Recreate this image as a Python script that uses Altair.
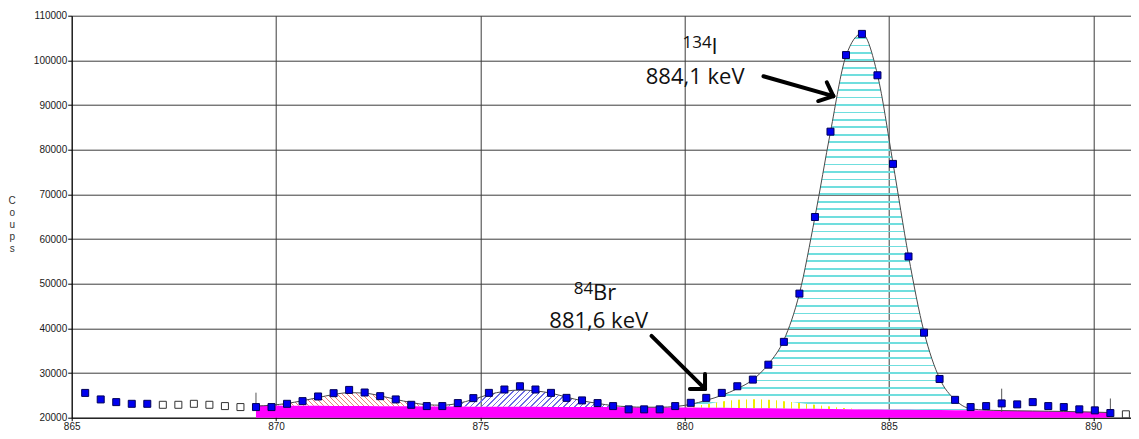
import altair as alt
import pandas as pd

# ---------------- data ----------------
energy = [865.33, 865.71, 866.09, 866.47, 866.85, 867.23, 867.61, 867.99, 868.37, 868.75,
          869.13, 869.51, 869.89, 870.27, 870.65, 871.03, 871.41, 871.79, 872.17, 872.55,
          872.93, 873.31, 873.69, 874.07, 874.45, 874.83, 875.21, 875.59, 875.97, 876.35,
          876.73, 877.11, 877.49, 877.87, 878.25, 878.63, 879.01, 879.39, 879.77, 880.15,
          880.53, 880.91, 881.29, 881.67, 882.05, 882.43, 882.81, 883.19, 883.57, 883.95,
          884.34, 884.72, 885.10, 885.48, 885.86, 886.24, 886.62, 887.00, 887.38, 887.76,
          888.14, 888.52, 888.90, 889.28, 889.66, 890.04, 890.42, 890.80, 891.18]
counts = [25550, 24090, 23490, 23110, 23110, 22890, 22890, 23110, 22890, 22600,
          22380, 22380, 22380, 23110, 23710, 24750, 25490, 26220, 25640, 24820,
          24090, 22890, 22600, 22600, 23270, 24380, 25560, 26310, 27040, 26310,
          25560, 24440, 23870, 23270, 22600, 21870, 21870, 21870, 22600, 23330,
          24440, 25560, 27040, 28530, 31870, 36980, 47780, 64930, 84040, 101190,
          105930, 96660, 76820, 56090, 39040, 28670, 24000, 22380, 22600, 23200,
          22980, 23490, 22600, 22380, 21870, 21640, 21040, 20760, 20800]
hollow_idx = [5, 6, 7, 8, 9, 10, 67, 68]

# fitted total and background over the region of interest (channels 11..66)
ROI_FIRST = 11
fit = [22600, 22800, 23200, 23800, 24500, 25200, 25600, 25500, 24900, 24100,
       23400, 22900, 22800, 23200, 24100, 25200, 25900, 26200, 26000, 25500,
       24600, 23800, 23200, 22700, 22450, 22350, 22350, 22500, 23000, 23900,
       25000, 26500, 28500, 32000, 37400, 47800, 64900, 84000, 101000, 106000,
       96800, 77000, 56200, 39200, 28800, 24000, 22000, 21700, 21600, 21540,
       21500, 21450, 21400, 21330, 21250, 21150]
background = [22750, 22720, 22700, 22680, 22660, 22640, 22620, 22600, 22580, 22560,
              22540, 22520, 22500, 22480, 22470, 22460, 22450, 22440, 22430, 22420,
              22410, 22400, 22390, 22380, 22360, 22340, 22320, 22300, 22280, 22250,
              22220, 22180, 22140, 22100, 22060, 22020, 21980, 21940, 21900, 21860,
              21830, 21800, 21770, 21740, 21710, 21680, 21650, 21620, 21580, 21540,
              21500, 21450, 21400, 21330, 21250, 21150]
# 84Br component on top of background (channels 38..50)
BR_FIRST = 38
br_top = [22300, 22500, 23000, 23600, 24000, 24150, 24000, 23700, 23300, 22900,
          22500, 22100, 21860]

x_ticks = [865, 870, 875, 880, 885, 890]
y_ticks = [20000, 30000, 40000, 50000, 60000, 70000, 80000, 90000, 100000, 110000]

# annotations (data coordinates)
ann_text = ["884,1 keV", "134", "I", "881,6 keV", "84", "Br"]
ann_x = [879.05, 879.95, 880.66, 876.69, 877.29, 877.76]
ann_y = [94600, 102750, 101480, 40150, 47710, 46440]
ann_size = [22, 17, 22, 22, 17, 22]

arrow_x = [881.93, 883.64, 883.64, 879.19, 880.50, 880.50]
arrow_y = [96440, 92000, 92000, 38310, 26440, 26440]
arrow_x2 = [883.64, 883.48, 883.27, 880.50, 880.50, 880.13]
arrow_y2 = [92000, 95100, 90890, 26440, 29780, 26440]

marker_x = [869.51, 887.76, 890.42]
marker_lo = [22600, 21300, 21100]
marker_hi = [25600, 26500, 24300]

# ---------------- geometry ----------------
PLOT_W = 1059.3
PLOT_H = 402
PX_PER_KEV = 40.86
X_DOMAIN = [865, 865 + PLOT_W / PX_PER_KEV]
Y_DOMAIN = [20000, 110000]
PX_PER_COUNT = PLOT_H / (Y_DOMAIN[1] - Y_DOMAIN[0])
CLEAR = "rgba(255,255,255,0)"

xaxis = alt.Axis(values=x_ticks, format="d", title=None, grid=True, gridColor="#3c3c3c",
                 gridWidth=1, labelFont="Liberation Sans", labelFontSize=10, labelColor="#1a1a1a",
                 tickSize=3, tickColor="#000", domainColor="#000", labelPadding=1,
                 labelOverlap=False, labelFlush=False)
yaxis = alt.Axis(values=y_ticks, format="d", title=["C", "o", "u", "p", "s"], grid=True,
                 gridColor="#3c3c3c", gridWidth=1, labelFont="Liberation Sans", labelFontSize=10,
                 labelColor="#1a1a1a", tickSize=4, tickColor="#000", domainColor="#000",
                 labelPadding=1, labelOverlap=False, titleAngle=0, titleX=-60, titleY=180,
                 titleAlign="center", titleBaseline="top", titleFontSize=10, titleLineHeight=12,
                 titleFont="Liberation Sans", titleFontWeight="normal", titleColor="#333")


def X(field):
    return alt.X(field, type="quantitative", scale=alt.Scale(domain=X_DOMAIN, nice=False, zero=False), axis=xaxis)


def Y(field):
    return alt.Y(field, type="quantitative", scale=alt.Scale(domain=Y_DOMAIN, nice=False, zero=False), axis=yaxis)


def stops_from(starts, width, color):
    st = [{"offset": 0, "color": CLEAR}]
    last = 0.0
    for s in sorted(starts):
        a = max(last, min(1.0, s))
        b = max(a, min(1.0, s + width))
        if b <= a:
            continue
        st += [{"offset": a, "color": CLEAR}, {"offset": a, "color": color},
               {"offset": b, "color": color}, {"offset": b, "color": CLEAR}]
        last = b
    st.append({"offset": 1, "color": CLEAR})
    return st


def diag_gradient(df, color, period_px, line_px, forward=True):
    w = (df["e"].max() - df["e"].min()) * PX_PER_KEV
    h = (df["hi"].max() - df["lo"].min()) * PX_PER_COUNT
    r = h / w
    scale = w * (1 + r * r)
    T = period_px / scale
    n = int(1.3 / T) + 2
    starts = [k * T for k in range(n)]
    g = {"gradient": "linear", "stops": stops_from(starts, line_px / scale, color), "x1": 0, "x2": 1}
    if forward:   # "/" hatch
        g.update({"y1": 0, "y2": r})
    else:         # "\" hatch
        g.update({"y1": r, "y2": 0})
    return g


def roi_slice(i0, i1):
    return slice(i0 - ROI_FIRST, i1 - ROI_FIRST + 1)


# ---------------- tables ----------------
pts = pd.DataFrame({"e": energy, "c": counts})
pts["hollow"] = [i in hollow_idx for i in range(len(energy))]

roi = pd.DataFrame({"e": energy[ROI_FIRST:ROI_FIRST + len(fit)], "fit": fit, "bg": background})
roi["base"] = Y_DOMAIN[0]

br_full = [None] * len(fit)
for k, v in enumerate(br_top):
    br_full[BR_FIRST - ROI_FIRST + k] = v
roi["br"] = br_full


def region(i0, i1, lo_col, hi_col):
    d = roi.iloc[roi_slice(i0, i1)].copy()
    lo = d[lo_col] if lo_col != "cyanlo" else d[["bg", "br"]].max(axis=1)
    return pd.DataFrame({"e": d["e"], "lo": lo, "hi": d[hi_col]})


red_df = region(11, 23, "bg", "fit")
blue_df = region(23, 35, "bg", "fit")
yel_df = region(38, 50, "bg", "br")
cyan_df = region(39, 57, "cyanlo", "fit")

# yellow vertical hatch
yw = (yel_df["e"].max() - yel_df["e"].min()) * PX_PER_KEV
yel_grad = {"gradient": "linear", "x1": 0, "y1": 0, "x2": 1, "y2": 0,
            "stops": stops_from([(3 + 7.5 * k) / yw for k in range(int(yw / 7.5) + 2)], 1.4 / yw, "#eded00")}

# cyan horizontal hatch aligned with count levels
c_top = cyan_df["hi"].max()
c_bot = cyan_df["lo"].min()
ch = (c_top - c_bot) * PX_PER_COUNT
levels = [Y_DOMAIN[0] + k * 10000 / 6 for k in range(60)]
c_starts = [((c_top - L) * PX_PER_COUNT - 0.9) / ch for L in levels if c_bot < L < c_top]
cyan_grad = {"gradient": "linear", "x1": 0, "y1": 0, "x2": 0, "y2": 1,
             "stops": stops_from(c_starts, 1.8 / ch, "#70dede")}

red_grad = diag_gradient(red_df, "#f27a7a", 5.0, 1.6, forward=False)
blue_grad = diag_gradient(blue_df, "#6c6ce4", 5.5, 1.4, forward=True)

ann = pd.DataFrame({"t": ann_text, "x": ann_x, "y": ann_y, "fs": ann_size})
arrows = pd.DataFrame({"x": arrow_x, "y": arrow_y, "x2": arrow_x2, "y2": arrow_y2})
markers = pd.DataFrame({"x": marker_x, "lo": marker_lo, "hi": marker_hi})

# ---------------- layers ----------------
magenta = alt.Chart(roi).mark_area(color="#ff00ff", interpolate="linear").encode(
    x=X("e"), y=Y("bg"), y2="base")

def hatch(df, grad):
    return alt.Chart(df).mark_area(fill=grad, interpolate="monotone", strokeWidth=0).encode(
        x=X("e"), y=Y("hi"), y2="lo")

red = hatch(red_df, red_grad)
blue = hatch(blue_df, blue_grad)
yel = hatch(yel_df, yel_grad)
cyan = hatch(cyan_df, cyan_grad)

mark_rules = alt.Chart(markers).mark_rule(color="#555", strokeWidth=1).encode(
    x=X("x"), y=Y("lo"), y2="hi")

fit_line = alt.Chart(roi).mark_line(color="#4a4a4a", strokeWidth=1, interpolate="monotone").encode(
    x=X("e"), y=Y("fit"))

filled_pts = alt.Chart(pts).transform_filter("!datum.hollow").mark_square(
    size=49, filled=True, color="#0000f0", stroke="#00005a", strokeWidth=1, opacity=1).encode(
    x=X("e"), y=Y("c"))
hollow_pts = alt.Chart(pts).transform_filter("datum.hollow").mark_square(
    size=49, filled=True, fill="#ffffff", stroke="#333333", strokeWidth=1, opacity=1).encode(
    x=X("e"), y=Y("c"))

arrow_layer = alt.Chart(arrows).mark_rule(color="#000", strokeWidth=4, strokeCap="round").encode(
    x=X("x"), y=Y("y"), x2="x2", y2="y2")

texts = alt.Chart(ann).mark_text(align="left", baseline="alphabetic", font="Open Sans",
                                 color="#111").encode(
    x=X("x"), y=Y("y"), text="t:N", size=alt.Size("fs:Q", scale=None, legend=None))

chart = alt.layer(
    red, blue, yel, cyan, magenta, mark_rules, fit_line, filled_pts, hollow_pts, arrow_layer, texts
).properties(
    width=PLOT_W, height=PLOT_H,
    autosize=alt.AutoSizeParams(type="none"),
    padding={"left": 63.7, "top": 7.7, "right": 0, "bottom": 13.3},
    background="white",
).configure_view(stroke=None)

chart.save("out.html", embed_options={"renderer": "svg", "actions": False})
